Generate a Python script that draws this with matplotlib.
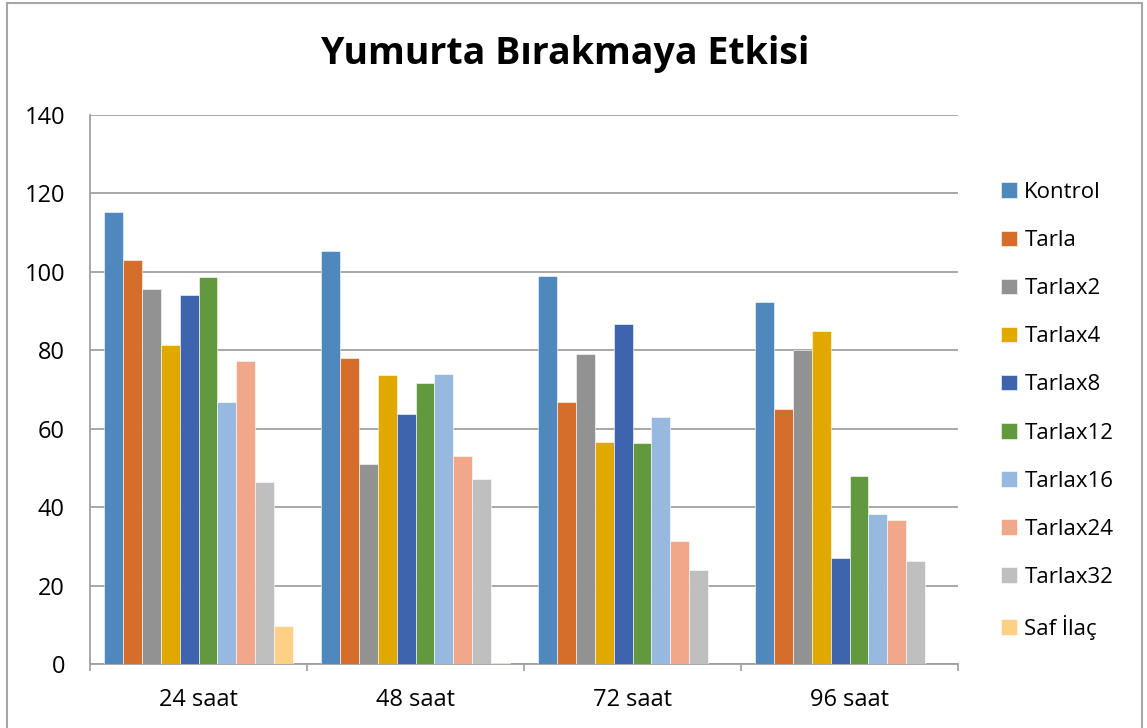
import numpy as np
import matplotlib
matplotlib.use('Agg')
import matplotlib.pyplot as plt
from matplotlib.patches import Rectangle

plt.rcParams['font.family'] = ['Open Sans', 'DejaVu Sans']

groups = ['24 saat', '48 saat', '72 saat', '96 saat']
names = ['Kontrol', 'Tarla', 'Tarlax2', 'Tarlax4', 'Tarlax8', 'Tarlax12',
         'Tarlax16', 'Tarlax24', 'Tarlax32', 'Saf İlaç']

kontrol = [115.3, 105.3, 99.0, 92.2]
tarla = [103.0, 78.0, 66.7, 65.0]
tarlax2 = [95.6, 51.0, 79.0, 80.1]
tarlax4 = [81.3, 73.6, 56.6, 84.9]
tarlax8 = [94.0, 63.8, 86.7, 27.0]
tarlax12 = [98.6, 71.7, 56.4, 48.0]
tarlax16 = [66.7, 74.0, 63.0, 38.2]
tarlax24 = [77.3, 53.0, 31.4, 36.7]
tarlax32 = [46.3, 47.1, 24.0, 26.3]
saf_ilac = [9.7, 0.3, 0, 0]

series = [kontrol, tarla, tarlax2, tarlax4, tarlax8, tarlax12,
          tarlax16, tarlax24, tarlax32, saf_ilac]

colors = ['#4f88bd', '#d46e2a', '#929292', '#e1a900', '#3d64ac',
          '#62993e', '#98b9df', '#f0a78a', '#bfbfbf', '#fed085']

W, H = 1147, 728
fig = plt.figure(figsize=(W / 100, H / 100), dpi=100)
fig.patches.append(Rectangle((7 / W, -0.01), (1142 - 7) / W, (H - 3) / H + 0.01,
                             transform=fig.transFigure, fill=False,
                             edgecolor='#a6a6a6', linewidth=1.5))

ax = fig.add_axes([90 / W, (H - 664) / H, 868 / W, 549 / H])

x = np.arange(len(groups))
bw = 0.087
n = len(series)
for i, (vals, c, nm) in enumerate(zip(series, colors, names)):
    ax.bar(x + (i - (n - 1) / 2) * bw, vals, bw, color=c, label=nm,
           edgecolor='white', linewidth=0.4, zorder=3)

ax.set_xlim(-0.5, len(groups) - 0.5)
ax.set_ylim(0, 140)
ax.set_yticks(np.arange(0, 141, 20))
ax.set_xticks(x)
ax.set_xticklabels(groups)
ax.set_xticks(np.arange(-0.5, len(groups)), minor=True)
ax.tick_params(axis='x', which='major', length=0, labelsize=17, pad=17)
ax.tick_params(axis='x', which='minor', length=5, color='#a0a0a0', width=1.2)
ax.tick_params(axis='y', length=0, labelsize=17, pad=18)
ax.yaxis.grid(True, color='#a0a0a0', linewidth=1.3, zorder=0)
for s in ['top', 'right']:
    ax.spines[s].set_visible(False)
for s in ['left', 'bottom']:
    ax.spines[s].set_color('#a0a0a0')
    ax.spines[s].set_linewidth(1.3)

fig.text((320 + 810) / 2 / W, 1 - 54 / H, 'Yumurta Bırakmaya Etkisi',
         ha='center', va='center', fontsize=27, fontweight='bold')

leg = fig.legend(loc='upper left', bbox_to_anchor=(1001 / W, 1 - 182 / H),
                 frameon=False, fontsize=16, handlelength=0.7, handleheight=0.7,
                 handletextpad=0.35, labelspacing=1.22, borderpad=0,
                 borderaxespad=0)

fig.savefig('out.png', dpi=100)
